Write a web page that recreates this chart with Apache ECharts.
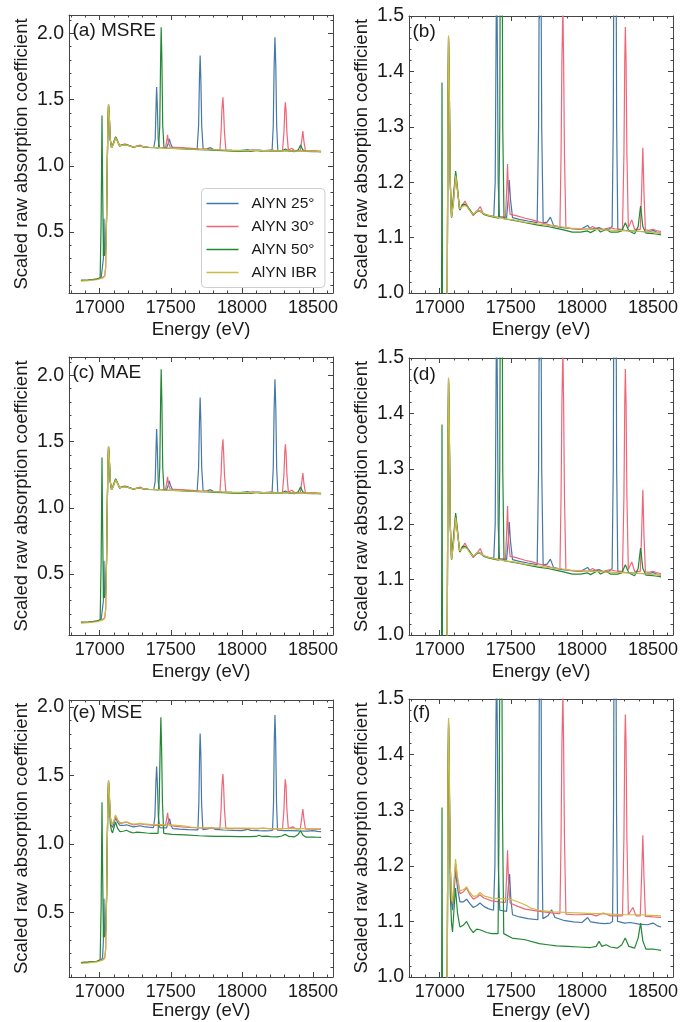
<!DOCTYPE html>
<html><head><meta charset="utf-8">
<script src="https://cdn.jsdelivr.net/npm/echarts@6/dist/echarts.min.js"></script>
<style>html,body{margin:0;padding:0;background:#fff}#c{width:684px;height:1022px}</style>
</head><body><div id="c"></div>
<script>
// ---------------- DATA ----------------
const seriesNames = ['AlYN 25°', 'AlYN 30°', 'AlYN 50°', 'AlYN IBR'];
const seriesColors = ['#4477AA', '#EE6677', '#228833', '#CCBB44'];
const energyTicks = [17000, 17500, 18000, 18500];
const energyMinor = [16800,16900,17100,17200,17300,17400,17600,17700,17800,17900,18100,18200,18300,18400,18600];
const yTicksFull = [0.5, 1.0, 1.5, 2.0];
const yMinorFull = [0.1,0.2,0.3,0.4,0.6,0.7,0.8,0.9,1.1,1.2,1.3,1.4,1.6,1.7,1.8,1.9,2.1];
const yTicksZoom = [1.0, 1.1, 1.2, 1.3, 1.4, 1.5];
const yMinorZoom = [1.02,1.04,1.06,1.08,1.12,1.14,1.16,1.18,1.22,1.24,1.26,1.28,1.32,1.34,1.36,1.38,1.42,1.44,1.46,1.48];

// MSRE (panels a, b)
const msreBlue = [[16868,0.135],[16920,0.138],[16980,0.145],[17010,0.155],[17020,0.17],[17026,0.3],[17030,0.6],[17034,0.32],[17042,0.36],[17048,0.6],[17053,1.0],[17058,1.35],[17062,1.46],[17067,1.38],[17074,1.2],[17083,1.137],[17095,1.165],[17112,1.215],[17125,1.185],[17140,1.15],[17160,1.158],[17178,1.16],[17195,1.156],[17212,1.15],[17236,1.14],[17262,1.148],[17283,1.148],[17310,1.143],[17342,1.14],[17380,1.138],[17390,1.2],[17396,1.45],[17400,1.595],[17405,1.45],[17411,1.2],[17420,1.138],[17470,1.136],[17482,1.17],[17489,1.204],[17497,1.17],[17512,1.136],[17560,1.133],[17620,1.13],[17685,1.127],[17695,1.3],[17701,1.65],[17706,1.833],[17711,1.65],[17717,1.3],[17727,1.126],[17755,1.128],[17778,1.137],[17800,1.122],[17860,1.118],[17930,1.116],[17990,1.115],[18040,1.122],[18060,1.115],[18120,1.118],[18150,1.114],[18190,1.115],[18212,1.12],[18220,1.3],[18226,1.75],[18232,1.97],[18238,1.75],[18244,1.3],[18252,1.115],[18300,1.113],[18350,1.112],[18420,1.111],[18470,1.11],[18500,1.113],[18530,1.109],[18556,1.108]];
const msrePink = [[16868,0.135],[16920,0.138],[16980,0.145],[17020,0.158],[17035,0.17],[17042,0.24],[17048,0.6],[17053,1.0],[17058,1.35],[17062,1.462],[17067,1.38],[17074,1.2],[17083,1.138],[17095,1.16],[17112,1.21],[17125,1.185],[17140,1.15],[17160,1.158],[17177,1.166],[17195,1.157],[17212,1.15],[17236,1.14],[17262,1.148],[17285,1.156],[17305,1.143],[17342,1.14],[17380,1.138],[17420,1.136],[17462,1.137],[17470,1.18],[17477,1.233],[17484,1.17],[17495,1.142],[17531,1.14],[17600,1.135],[17650,1.132],[17700,1.128],[17760,1.124],[17810,1.12],[17845,1.119],[17853,1.25],[17859,1.42],[17866,1.517],[17871,1.42],[17877,1.25],[17887,1.118],[17932,1.116],[17990,1.115],[18050,1.116],[18075,1.12],[18100,1.116],[18150,1.115],[18200,1.118],[18230,1.116],[18285,1.115],[18295,1.25],[18301,1.42],[18305,1.48],[18310,1.42],[18316,1.25],[18326,1.118],[18350,1.132],[18370,1.115],[18410,1.115],[18419,1.18],[18428,1.262],[18436,1.18],[18446,1.114],[18470,1.113],[18500,1.115],[18530,1.112],[18556,1.111]];
const msreGreen = [[16868,0.135],[16920,0.138],[16980,0.145],[17003,0.155],[17010,0.6],[17016,1.38],[17021,0.8],[17026,0.32],[17040,0.34],[17048,0.6],[17053,1.0],[17058,1.35],[17062,1.455],[17067,1.38],[17074,1.2],[17083,1.136],[17095,1.17],[17112,1.22],[17125,1.19],[17140,1.15],[17160,1.16],[17178,1.16],[17195,1.156],[17212,1.15],[17236,1.142],[17262,1.147],[17283,1.148],[17310,1.142],[17342,1.139],[17380,1.137],[17414,1.135],[17422,1.3],[17428,1.8],[17432,2.045],[17437,1.8],[17443,1.3],[17452,1.134],[17500,1.132],[17560,1.129],[17620,1.126],[17700,1.122],[17760,1.12],[17814,1.117],[17870,1.114],[17932,1.11],[17990,1.11],[18040,1.112],[18060,1.109],[18110,1.116],[18130,1.11],[18170,1.115],[18200,1.11],[18250,1.11],[18280,1.112],[18305,1.127],[18330,1.112],[18370,1.107],[18395,1.12],[18412,1.157],[18428,1.12],[18450,1.108],[18500,1.107],[18530,1.106],[18556,1.105]];
const msreYellow = [[16868,0.13],[16920,0.133],[16980,0.14],[17020,0.152],[17035,0.165],[17042,0.23],[17048,0.6],[17053,1.0],[17058,1.35],[17062,1.465],[17067,1.38],[17074,1.2],[17083,1.137],[17095,1.16],[17112,1.212],[17125,1.185],[17140,1.152],[17160,1.156],[17178,1.158],[17195,1.155],[17212,1.148],[17236,1.142],[17262,1.148],[17283,1.148],[17310,1.143],[17342,1.14],[17400,1.137],[17450,1.134],[17520,1.132],[17600,1.128],[17680,1.125],[17760,1.122],[17840,1.12],[17920,1.117],[18000,1.116],[18080,1.115],[18160,1.114],[18240,1.113],[18320,1.112],[18400,1.111],[18480,1.11],[18556,1.109]];

// MAE (panels c, d) – read as identical to MSRE
const maeBlue = msreBlue;
const maePink = msrePink;
const maeGreen = msreGreen;
const maeYellow = msreYellow;

// MSE (panels e, f)
const mseBlue = [[16868,0.135],[16920,0.138],[16980,0.145],[17010,0.155],[17020,0.17],[17026,0.3],[17030,0.6],[17034,0.32],[17042,0.36],[17048,0.6],[17053,1.0],[17058,1.35],[17062,1.45],[17067,1.36],[17074,1.2],[17083,1.135],[17090,1.12],[17100,1.15],[17111,1.191],[17125,1.16],[17142,1.135],[17165,1.135],[17189,1.14],[17212,1.132],[17236,1.125],[17260,1.128],[17283,1.133],[17310,1.127],[17340,1.123],[17378,1.12],[17388,1.2],[17395,1.45],[17400,1.565],[17405,1.45],[17412,1.2],[17422,1.12],[17470,1.118],[17482,1.16],[17491,1.185],[17500,1.14],[17512,1.112],[17560,1.108],[17620,1.105],[17690,1.103],[17697,1.3],[17702,1.65],[17706,1.805],[17711,1.65],[17716,1.3],[17725,1.105],[17760,1.11],[17787,1.121],[17810,1.107],[17870,1.102],[17940,1.099],[18000,1.098],[18040,1.107],[18060,1.099],[18120,1.097],[18160,1.096],[18200,1.097],[18215,1.1],[18222,1.3],[18227,1.75],[18232,1.94],[18237,1.75],[18243,1.3],[18250,1.1],[18300,1.097],[18340,1.098],[18400,1.095],[18460,1.094],[18500,1.097],[18530,1.092],[18556,1.09]];
const msePink = [[16868,0.135],[16920,0.138],[16980,0.145],[17020,0.158],[17035,0.17],[17042,0.24],[17048,0.6],[17053,1.0],[17058,1.35],[17062,1.46],[17067,1.38],[17074,1.2],[17083,1.14],[17090,1.132],[17100,1.165],[17111,1.203],[17125,1.175],[17142,1.15],[17165,1.153],[17189,1.16],[17212,1.148],[17236,1.14],[17260,1.143],[17283,1.148],[17310,1.142],[17366,1.137],[17420,1.135],[17462,1.134],[17470,1.18],[17477,1.228],[17484,1.17],[17495,1.133],[17540,1.128],[17600,1.122],[17700,1.118],[17800,1.115],[17845,1.114],[17853,1.25],[17859,1.42],[17866,1.51],[17871,1.42],[17877,1.25],[17887,1.113],[17950,1.112],[18000,1.112],[18060,1.113],[18100,1.11],[18150,1.115],[18200,1.11],[18285,1.11],[18295,1.25],[18301,1.42],[18305,1.472],[18310,1.42],[18316,1.25],[18326,1.112],[18358,1.125],[18380,1.11],[18410,1.11],[18419,1.18],[18428,1.255],[18436,1.18],[18446,1.109],[18500,1.108],[18556,1.107]];
const mseGreen = [[16868,0.135],[16920,0.138],[16980,0.145],[17003,0.155],[17010,0.55],[17016,1.305],[17021,0.75],[17026,0.32],[17040,0.34],[17048,0.6],[17053,1.0],[17058,1.35],[17062,1.455],[17067,1.36],[17074,1.15],[17083,1.096],[17090,1.081],[17100,1.12],[17111,1.16],[17125,1.115],[17142,1.09],[17165,1.093],[17189,1.1],[17212,1.088],[17236,1.08],[17260,1.086],[17283,1.085],[17330,1.08],[17366,1.078],[17410,1.078],[17418,1.3],[17425,1.7],[17430,1.925],[17435,1.7],[17441,1.3],[17450,1.078],[17508,1.07],[17600,1.067],[17700,1.06],[17760,1.058],[17820,1.056],[17900,1.055],[17980,1.054],[18060,1.053],[18100,1.055],[18120,1.064],[18140,1.055],[18170,1.058],[18181,1.06],[18200,1.054],[18250,1.052],[18280,1.058],[18304,1.07],[18330,1.055],[18370,1.052],[18395,1.07],[18412,1.097],[18428,1.065],[18450,1.05],[18500,1.05],[18530,1.049],[18556,1.048]];
const mseYellow = [[16868,0.13],[16920,0.133],[16980,0.14],[17020,0.152],[17035,0.165],[17042,0.23],[17048,0.6],[17053,1.0],[17058,1.35],[17062,1.466],[17067,1.38],[17074,1.2],[17083,1.14],[17090,1.135],[17100,1.17],[17111,1.212],[17125,1.18],[17142,1.155],[17165,1.157],[17189,1.162],[17212,1.152],[17236,1.145],[17260,1.146],[17283,1.152],[17310,1.146],[17366,1.142],[17420,1.141],[17480,1.14],[17520,1.138],[17600,1.13],[17640,1.124],[17700,1.12],[17800,1.117],[17900,1.116],[18000,1.115],[18100,1.114],[18200,1.113],[18300,1.112],[18400,1.112],[18480,1.111],[18556,1.11]];

// ---------------- LAYOUT ----------------
const FONT = '"Liberation Sans", Arial, Helvetica, sans-serif';
const FRAME = '#444';
const TXT = '#1a1a1a';
const X_MIN = 16784, X_MAX = 18640;

const panels = [
  {grid:{left:69,top:15,width:264,height:278}, y:[0.04,2.138], zoom:false, data:[msreBlue,msrePink,msreGreen,msreYellow], label:'(a) MSRE', lx:72.5, ly:21.5, nameGap:27},
  {grid:{left:409,top:16,width:264,height:277}, y:[1.0,1.5], zoom:true, data:[msreBlue,msrePink,msreGreen,msreYellow], label:'(b)', lx:412.5, ly:22, nameGap:27},
  {grid:{left:69,top:357,width:264,height:278}, y:[0.04,2.138], zoom:false, data:[maeBlue,maePink,maeGreen,maeYellow], label:'(c) MAE', lx:72.5, ly:363.5, nameGap:27},
  {grid:{left:409,top:358,width:264,height:277}, y:[1.0,1.5], zoom:true, data:[maeBlue,maePink,maeGreen,maeYellow], label:'(d)', lx:412.5, ly:365, nameGap:27},
  {grid:{left:69,top:700,width:264,height:277}, y:[0.03,2.05], zoom:false, data:[mseBlue,msePink,mseGreen,mseYellow], label:'(e) MSE', lx:72.5, ly:703.5, nameGap:22},
  {grid:{left:409,top:699,width:264,height:278}, y:[1.0,1.5], zoom:true, data:[mseBlue,msePink,mseGreen,mseYellow], label:'(f)', lx:412.5, ly:703.5, nameGap:22}
];

const grids = [], xAxes = [], yAxes = [], series = [], graphics = [];
const lineSt = {color: FRAME, width: 1};

panels.forEach((p, i) => {
  grids.push(Object.assign({containLabel:false}, p.grid));
  const base = {gridIndex:i, type:'value', min:X_MIN, max:X_MAX, splitLine:{show:false}};
  xAxes.push(Object.assign({}, base, {
    position:'bottom',
    axisLine:{show:true, onZero:false, lineStyle:lineSt},
    axisTick:{show:true, inside:true, length:5, customValues:energyTicks, lineStyle:lineSt},
    axisLabel:{show:true, customValues:energyTicks, margin:6, fontSize:18, color:TXT, fontFamily:FONT,
               fontWeight:'normal', formatter:(v)=>String(Math.round(v))},
    name:'Energy (eV)', nameLocation:'middle', nameGap:p.nameGap,
    nameTextStyle:{fontSize:18.5, color:TXT, fontFamily:FONT, fontWeight:'normal'}
  }));
  xAxes.push(Object.assign({}, base, {
    position:'bottom', axisLine:{show:false, onZero:false},
    axisTick:{show:true, inside:true, length:2.5, customValues:energyMinor, lineStyle:lineSt},
    axisLabel:{show:false}
  }));
  xAxes.push(Object.assign({}, base, {
    position:'top', axisLine:{show:true, onZero:false, lineStyle:lineSt},
    axisTick:{show:true, inside:true, length:5, customValues:energyTicks, lineStyle:lineSt},
    axisLabel:{show:false}
  }));
  xAxes.push(Object.assign({}, base, {
    position:'top', axisLine:{show:false, onZero:false},
    axisTick:{show:true, inside:true, length:2.5, customValues:energyMinor, lineStyle:lineSt},
    axisLabel:{show:false}
  }));

  const majors = p.zoom ? yTicksZoom : yTicksFull;
  const minors = p.zoom ? yMinorZoom : yMinorFull;
  const ybase = {gridIndex:i, type:'value', min:p.y[0], max:p.y[1], splitLine:{show:false}};
  yAxes.push(Object.assign({}, ybase, {
    position:'left',
    axisLine:{show:true, onZero:false, lineStyle:lineSt},
    axisTick:{show:true, inside:true, length:5, customValues:majors, lineStyle:lineSt},
    axisLabel:{show:true, customValues:majors, margin:5, fontSize:19.5, color:TXT, fontFamily:FONT,
               fontWeight:'normal', formatter:(v)=>Number(v).toFixed(1)},
    name:'Scaled raw absorption coefficient', nameLocation:'middle', nameGap:38,
    nameTextStyle:{fontSize:18.5, color:TXT, fontFamily:FONT, fontWeight:'normal'}
  }));
  yAxes.push(Object.assign({}, ybase, {
    position:'left', axisLine:{show:false, onZero:false},
    axisTick:{show:true, inside:true, length:2.5, customValues:minors, lineStyle:lineSt},
    axisLabel:{show:false}
  }));
  yAxes.push(Object.assign({}, ybase, {
    position:'right', axisLine:{show:true, onZero:false, lineStyle:lineSt},
    axisTick:{show:true, inside:true, length:5, customValues:majors, lineStyle:lineSt},
    axisLabel:{show:false}
  }));
  yAxes.push(Object.assign({}, ybase, {
    position:'right', axisLine:{show:false, onZero:false},
    axisTick:{show:true, inside:true, length:2.5, customValues:minors, lineStyle:lineSt},
    axisLabel:{show:false}
  }));

  p.data.forEach((d, k) => {
    series.push({
      type:'line', name:seriesNames[k], xAxisIndex:4*i, yAxisIndex:4*i, data:d,
      showSymbol:false, symbol:'none', clip:true, silent:true,
      lineStyle:{width:1.2, color:seriesColors[k]}, itemStyle:{color:seriesColors[k]},
      z:2+k
    });
  });

  graphics.push({type:'text', left:p.lx, top:p.ly, z:100,
    style:{text:p.label, fill:TXT, font:'19px "Liberation Sans", Arial, sans-serif'}});
});

const chart = echarts.init(document.getElementById('c'), null, {renderer:'canvas'});
chart.setOption({
  animation:false,
  backgroundColor:'#fff',
  grid:grids, xAxis:xAxes, yAxis:yAxes, series:series, graphic:graphics,
  legend:{
    data:seriesNames, orient:'vertical', left:201.5, top:188.5,
    icon:'rect', itemWidth:32, itemHeight:1.3, itemGap:7,
    padding:[7,8,7,5], borderColor:'#cfcfcf', borderWidth:1, borderRadius:4,
    backgroundColor:'rgba(255,255,255,0.85)',
    textStyle:{fontSize:15.5, color:TXT, fontFamily:FONT, padding:[0,0,0,8]},
    selectedMode:false
  }
});
</script></body></html>
